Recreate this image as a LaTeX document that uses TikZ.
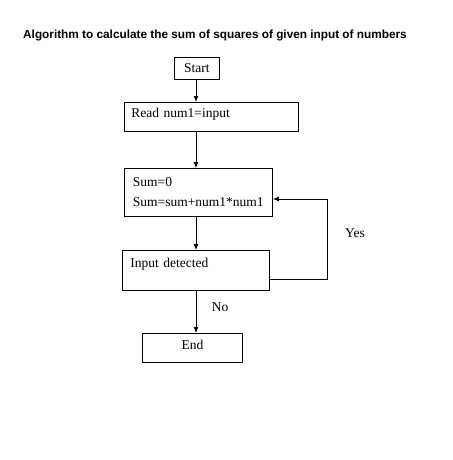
\documentclass[tikz,border=0pt]{standalone}
\usepackage{fontspec}
\setmainfont{Liberation Serif}
\newfontfamily\titlefont{Liberation Sans}
\usetikzlibrary{arrows.meta}
\begin{document}
\begin{tikzpicture}[x=1pt,y=-1pt,
  box/.style={draw,line width=0.9pt,anchor=north west,inner sep=0pt,font=\fontsize{13.5}{16}\selectfont},
  conn/.style={line width=0.9pt,-{Latex[length=6pt,width=5pt]}},
  lbl/.style={font=\fontsize{13.5}{16}\selectfont}]
\useasboundingbox (0,0) rectangle (452,460);
\node[anchor=west,font=\titlefont\bfseries\fontsize{11.8}{13}\selectfont,inner sep=0pt] (title) at (23,35) {Algorithm to calculate the sum of squares of given input of numbers};
\node[box,minimum width=45pt,minimum height=22pt] (start) at (174,57) {Start};
\node[box,minimum width=174pt,minimum height=29pt,text width=174pt,align=left,text height=15pt,text depth=14pt] (read) at (124,102) {\hspace*{7pt}Read num1=input};
\node[box,minimum width=148pt,minimum height=48pt,text width=148pt,align=left] (sum) at (124,168) {\hspace*{8.5pt}Sum=0\\[4pt]\hspace*{8.5pt}Sum=sum+num1*num1};
\node[box,minimum width=147pt,minimum height=40pt,text width=147pt,align=left,text height=17pt,text depth=23pt] (input) at (122,250) {\hspace*{8pt}Input detected};
\node[box,minimum width=100pt,minimum height=29pt,text height=16pt,text depth=13pt] (end) at (142,333) {End};
\draw[conn] (start.south -| 196,0) -- (read.north -| 196,0);
\draw[conn] (read.south -| 196,0) -- (sum.north -| 196,0);
\draw[conn] (sum.south -| 196,0) -- (input.north -| 196,0);
\draw[conn] (input.south -| 196,0) -- (end.north -| 196,0);
\coordinate (c1) at (327,279);
\coordinate (c2) at (327,199);
\draw[conn] (input.east |- c1) -- (c1) -- (c2) -- (sum.east |- c2);
\node[lbl] (yes) at (355,233) {Yes};
\node[lbl] (no) at (220,307) {No};
\end{tikzpicture}
\end{document}
